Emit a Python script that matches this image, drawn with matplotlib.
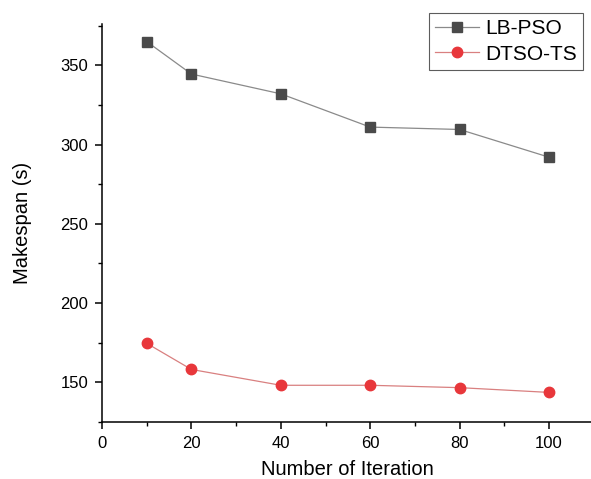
import matplotlib
matplotlib.use("Agg")
import matplotlib.pyplot as plt
from matplotlib.ticker import MultipleLocator

plt.rcParams['font.family'] = ['Liberation Sans', 'DejaVu Sans']

# --- Data ---
iterations = [10, 20, 40, 60, 80, 100]
lb_pso = [365, 344.5, 332, 311, 309.5, 292]
dtso_ts = [174.5, 158, 148, 148, 146.5, 143.5]

x_ticks = [0, 20, 40, 60, 80, 100]
y_ticks = [150, 200, 250, 300, 350]

fig = plt.figure(figsize=(5.91, 4.79), dpi=100)
ax = fig.add_axes([0.1726, 0.1196, 0.832, 0.830])

ax.plot(iterations, lb_pso, color='#8a8a8a', lw=0.9, marker='s', markersize=6.5,
        markerfacecolor='#4a4a4a', markeredgecolor='#4a4a4a', label='LB-PSO')
ax.plot(iterations, dtso_ts, color='#d98080', lw=0.9, marker='o', markersize=7.5,
        markerfacecolor='#e8373b', markeredgecolor='#e8373b', label='DTSO-TS')

ax.set_xlim(0, 110)
ax.set_ylim(125, 376)
ax.set_xticks(x_ticks)
ax.set_yticks(y_ticks)
ax.xaxis.set_minor_locator(MultipleLocator(10))
ax.yaxis.set_minor_locator(MultipleLocator(25))

# only left/bottom axis lines, ticks pointing out
for side in ('top', 'right'):
    ax.spines[side].set_visible(False)
for side in ('left', 'bottom'):
    ax.spines[side].set_linewidth(1.1)

ax.tick_params(which='major', direction='out', length=5, width=1.1, labelsize=12, pad=5)
ax.tick_params(which='minor', direction='out', length=3, width=1.0)

ax.set_xlabel('Number of Iteration', fontsize=14.5, labelpad=7)
ax.set_ylabel('Makespan (s)', fontsize=14.5, labelpad=20)

# legend sits in the top-right corner, poking above the axes
leg = ax.legend(loc='upper right', bbox_to_anchor=(583 / 591, 1 - 13 / 479),
                bbox_transform=fig.transFigure, fontsize=15, frameon=True,
                fancybox=False, borderpad=0.3, handlelength=2.1,
                handletextpad=0.3, labelspacing=0.3, borderaxespad=0)
leg.get_frame().set_edgecolor('#333333')
leg.get_frame().set_linewidth(0.8)

fig.savefig('out.png', dpi=100)
